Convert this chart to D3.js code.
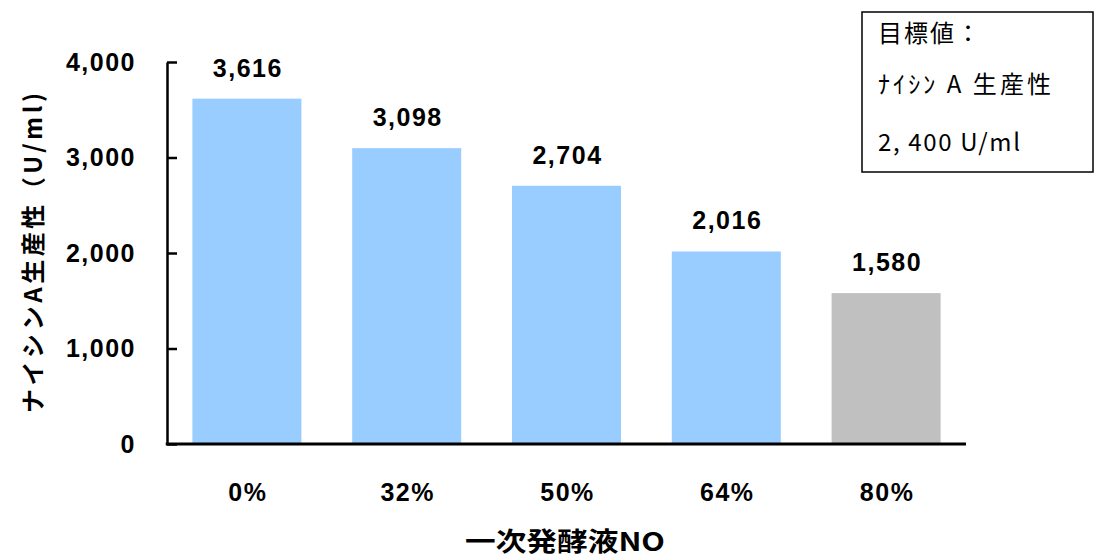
<!DOCTYPE html>
<html>
<head>
<meta charset="utf-8">
<script src="https://cdn.jsdelivr.net/npm/d3@7"></script>
<style>
  html, body { margin: 0; padding: 0; background: #fff; }
  svg { display: block; }
</style>
</head>
<body>
<svg id="chart" width="1098" height="560"></svg>
<script>
// Nisin A productivity by ratio of primary fermentation liquor
const categories = ["0%", "32%", "50%", "64%", "80%"];
const values = [3616, 3098, 2704, 2016, 1580];
const barColors = ["#99ccff", "#99ccff", "#99ccff", "#99ccff", "#c0c0c0"];
const yTicks = [0, 1000, 2000, 3000, 4000];
const yTitle = "ナイシンA生産性（U/ml)";
const xTitle = "一次発酵液NO";
const noteLines = ["目標値：", "ﾅｲｼﾝ A 生産性", "2, 400 U/ml"];

const svg = d3.select("#chart");
const W = 1098, H = 560;
const margin = { left: 167, right: 132, top: 62, bottom: 116 };

const x = d3.scaleBand()
  .domain(categories)
  .range([margin.left, W - margin.right])
  .paddingInner(0.318)
  .paddingOuter(0.159);

const y = d3.scaleLinear()
  .domain([0, 4000])
  .range([H - margin.bottom, margin.top]);

const latinBold = "'Liberation Sans', Arial, sans-serif";
const cjkFont = "'Noto Sans CJK JP', sans-serif";

// bars
svg.selectAll("rect.bar")
  .data(values)
  .join("rect")
  .attr("class", "bar")
  .attr("x", (d, i) => x(categories[i]))
  .attr("width", x.bandwidth())
  .attr("y", d => y(d))
  .attr("height", d => y(0) - y(d))
  .attr("fill", (d, i) => barColors[i]);

// value labels above bars
svg.selectAll("text.val")
  .data(values)
  .join("text")
  .attr("class", "val")
  .attr("x", (d, i) => x(categories[i]) + x.bandwidth() / 2 + 1)
  .attr("y", d => y(d) - 22)
  .attr("text-anchor", "middle")
  .attr("font-family", latinBold)
  .attr("font-weight", "bold")
  .attr("font-size", 25)
  .attr("letter-spacing", 1.5)
  .attr("fill", "#000")
  .text(d => d3.format(",")(d));

// y axis with inward ticks
const yAxis = svg.append("g")
  .attr("transform", `translate(${margin.left},0)`)
  .call(d3.axisLeft(y).tickValues(yTicks).tickFormat(d3.format(","))
    .tickSizeInner(-10).tickSizeOuter(0).tickPadding(31));
yAxis.select(".domain").attr("stroke", "#000").attr("stroke-width", 2.5);
yAxis.selectAll(".tick line").attr("stroke", "#000").attr("stroke-width", 2.5);
yAxis.selectAll(".tick text")
  .attr("font-family", latinBold)
  .attr("font-weight", "bold")
  .attr("font-size", 25)
  .attr("letter-spacing", 1.5)
  .attr("fill", "#000");

// x axis
const xAxis = svg.append("g")
  .attr("transform", `translate(0,${y(0)})`)
  .call(d3.axisBottom(x).tickSize(0).tickPadding(39));
xAxis.select(".domain").attr("stroke", "#000").attr("stroke-width", 3)
  .attr("d", `M${margin.left - 1.25},0H${W - margin.right}`);
xAxis.selectAll(".tick text")
  .attr("font-family", latinBold)
  .attr("font-weight", "bold")
  .attr("font-size", 25)
  .attr("letter-spacing", 1.5)
  .attr("dx", 1)
  .attr("fill", "#000");

// axis titles
svg.append("text")
  .attr("x", 565)
  .attr("y", 551)
  .attr("text-anchor", "middle")
  .attr("font-family", cjkFont)
  .attr("font-weight", "bold")
  .attr("font-size", 26)
  .attr("textLength", 200)
  .attr("lengthAdjust", "spacingAndGlyphs")
  .text(xTitle);

svg.append("text")
  .attr("transform", `translate(42,253) rotate(-90)`)
  .attr("text-anchor", "middle")
  .attr("font-family", cjkFont)
  .attr("font-weight", "bold")
  .attr("font-size", 24)
  .attr("textLength", 320)
  .attr("lengthAdjust", "spacing")
  .text(yTitle);

// target value note
const note = svg.append("g");
note.append("rect")
  .attr("x", 862).attr("y", 12)
  .attr("width", 231).attr("height", 160)
  .attr("fill", "#fff").attr("stroke", "#000").attr("stroke-width", 1.5);
const noteBaselines = [42, 93, 151];
const noteWidths = [102, 173, 142];
note.selectAll("text")
  .data(noteLines)
  .join("text")
  .attr("x", 878)
  .attr("y", (d, i) => noteBaselines[i])
  .attr("font-family", cjkFont)
  .attr("font-size", 24)
  .attr("textLength", (d, i) => noteWidths[i])
  .attr("lengthAdjust", "spacing")
  .attr("fill", "#000")
  .text(d => d);
</script>
</body>
</html>
